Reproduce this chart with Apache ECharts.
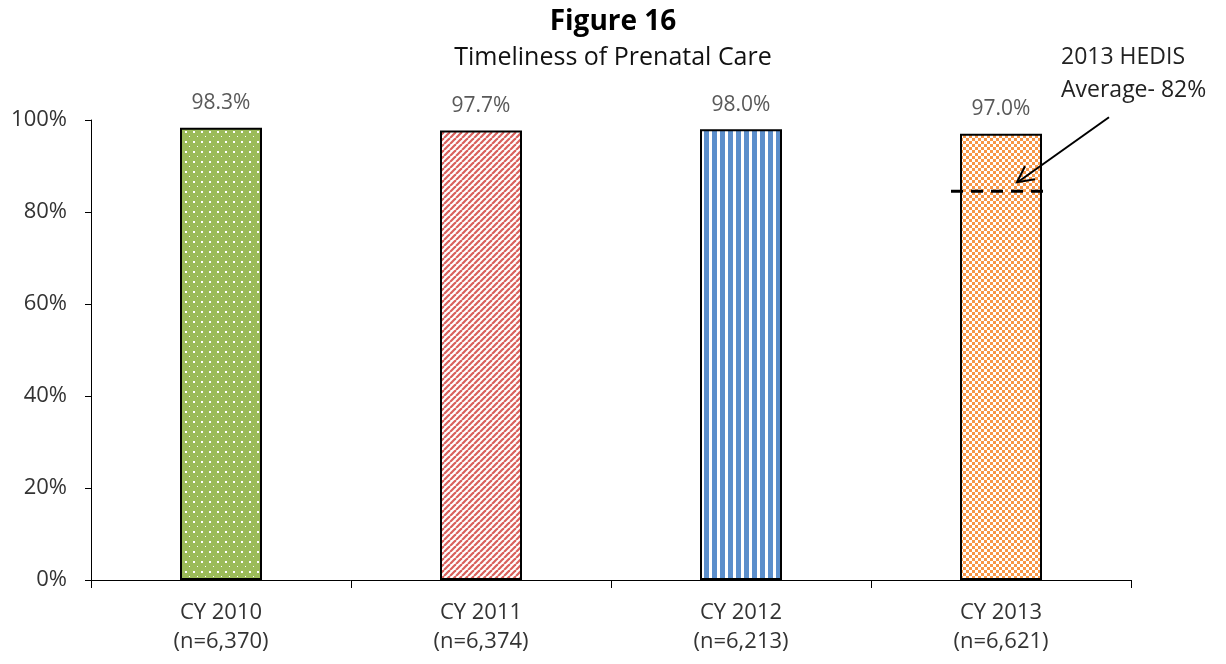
<!DOCTYPE html>
<html>
<head>
<meta charset="utf-8">
<script src="https://cdn.jsdelivr.net/npm/echarts@6/dist/echarts.min.js"></script>
<style>
  html, body { margin: 0; padding: 0; background: #fff; }
  #main { width: 1226px; height: 664px; }
</style>
</head>
<body>
<div id="main"></div>
<script>
var years = ['CY 2010', 'CY 2011', 'CY 2012', 'CY 2013'];
var counts = ['6,370', '6,374', '6,213', '6,621'];
var rates = [98.3, 97.7, 98.0, 97.0];
var hedisLine = 84.5;   // dashed line as drawn (labelled 82%)
var yTicks = [0, 20, 40, 60, 80, 100];

var font = '"Open Sans", Lato, sans-serif';

// little canvas tiles for the Excel-style pattern fills
function tile(w, h, draw) {
  var c = document.createElement('canvas');
  c.width = w; c.height = h;
  var ctx = c.getContext('2d');
  ctx.fillStyle = '#fff';
  ctx.fillRect(0, 0, w, h);
  draw(ctx);
  return c;
}

var dots = tile(8, 10, function (ctx) {
  ctx.fillStyle = '#9BBB59';
  ctx.fillRect(0, 0, 8, 10);
  ctx.fillStyle = '#fff';
  ctx.fillRect(1, 1, 2, 2);
  ctx.fillRect(5, 6, 1, 1);
});
var diag = tile(6, 6, function (ctx) {
  ctx.strokeStyle = '#D9605C';
  ctx.lineWidth = 2.2;
  for (var k = -6; k <= 12; k += 6) {
    ctx.beginPath();
    ctx.moveTo(k, 6);
    ctx.lineTo(k + 6, 0);
    ctx.stroke();
  }
});
var vert = tile(8, 4, function (ctx) {
  ctx.fillStyle = '#5B8ECB';
  ctx.fillRect(0, 0, 5, 4);
});
var check = tile(6, 6, function (ctx) {
  ctx.fillStyle = '#F79646';
  ctx.fillRect(0, 0, 3, 3);
  ctx.fillRect(3, 3, 3, 3);
});
var fills = [dots, diag, vert, check];

var chart = echarts.init(document.getElementById('main'));

var option = {
  backgroundColor: '#fff',
  animation: false,
  title: [
    {
      text: 'Figure 16',
      left: 'center',
      top: 3,
      textStyle: { fontFamily: font, fontSize: 28, fontWeight: 'bold', color: '#000' }
    },
    {
      text: 'Timeliness of Prenatal Care',
      left: 'center',
      top: 40,
      textStyle: { fontFamily: font, fontSize: 25, fontWeight: 'normal', color: '#111' }
    }
  ],
  grid: { left: 91, right: 95, top: 120, bottom: 84 },
  xAxis: {
    type: 'category',
    data: years.map(function (y, i) { return y + '\n(n=' + counts[i] + ')'; }),
    axisLine: { lineStyle: { color: '#000', width: 1 } },
    axisTick: { show: true, length: 8, lineStyle: { color: '#000' } },
    axisLabel: { fontFamily: font, fontSize: 22, color: '#333', margin: 18, lineHeight: 29 }
  },
  yAxis: {
    type: 'value',
    min: 0, max: 100, interval: 20,
    axisLine: { show: true, lineStyle: { color: '#000', width: 1 } },
    axisTick: { show: true, length: 6, lineStyle: { color: '#000' } },
    splitLine: { show: false },
    axisLabel: {
      fontFamily: font, fontSize: 22, color: '#333', margin: 24,
      formatter: function (v) { return yTicks.indexOf(v) >= 0 ? v + '%' : ''; }
    }
  },
  series: [{
    type: 'bar',
    barWidth: 82,
    data: rates.map(function (v, i) {
      return {
        value: v,
        itemStyle: {
          color: { image: fills[i], repeat: 'repeat' },
          borderColor: '#000',
          borderWidth: 2
        }
      };
    }),
    label: {
      show: true,
      position: 'top',
      distance: 14,
      fontFamily: font,
      fontSize: 21,
      color: '#595959',
      formatter: function (p) { return p.value.toFixed(1) + '%'; }
    }
  }]
};
chart.setOption(option);

// HEDIS average dashed line and annotation arrow
var p = chart.convertToPixel({ seriesIndex: 0 }, [3, hedisLine]);
var lx = p[0], ly = p[1];
chart.setOption({
  graphic: [
    {
      type: 'line',
      shape: { x1: lx - 50, y1: ly, x2: lx + 47, y2: ly },
      style: { stroke: '#000', lineWidth: 3, lineDash: [12, 8] },
      z: 10
    },
    {
      type: 'line',
      shape: { x1: lx + 108, y1: ly - 74, x2: lx + 18, y2: ly - 10 },
      style: { stroke: '#000', lineWidth: 2 },
      z: 10
    },
    {
      type: 'polyline',
      shape: { points: [[lx + 24, ly - 25], [lx + 16, ly - 9], [lx + 34, ly - 12]] },
      style: { stroke: '#000', lineWidth: 2, fill: null },
      z: 10
    },
    {
      type: 'text',
      left: 1061, top: 41,
      style: {
        text: '2013 HEDIS\nAverage- 82%',
        font: '23px ' + font,
        fill: '#222',
        lineHeight: 33
      },
      z: 10
    }
  ]
});
</script>
</body>
</html>
